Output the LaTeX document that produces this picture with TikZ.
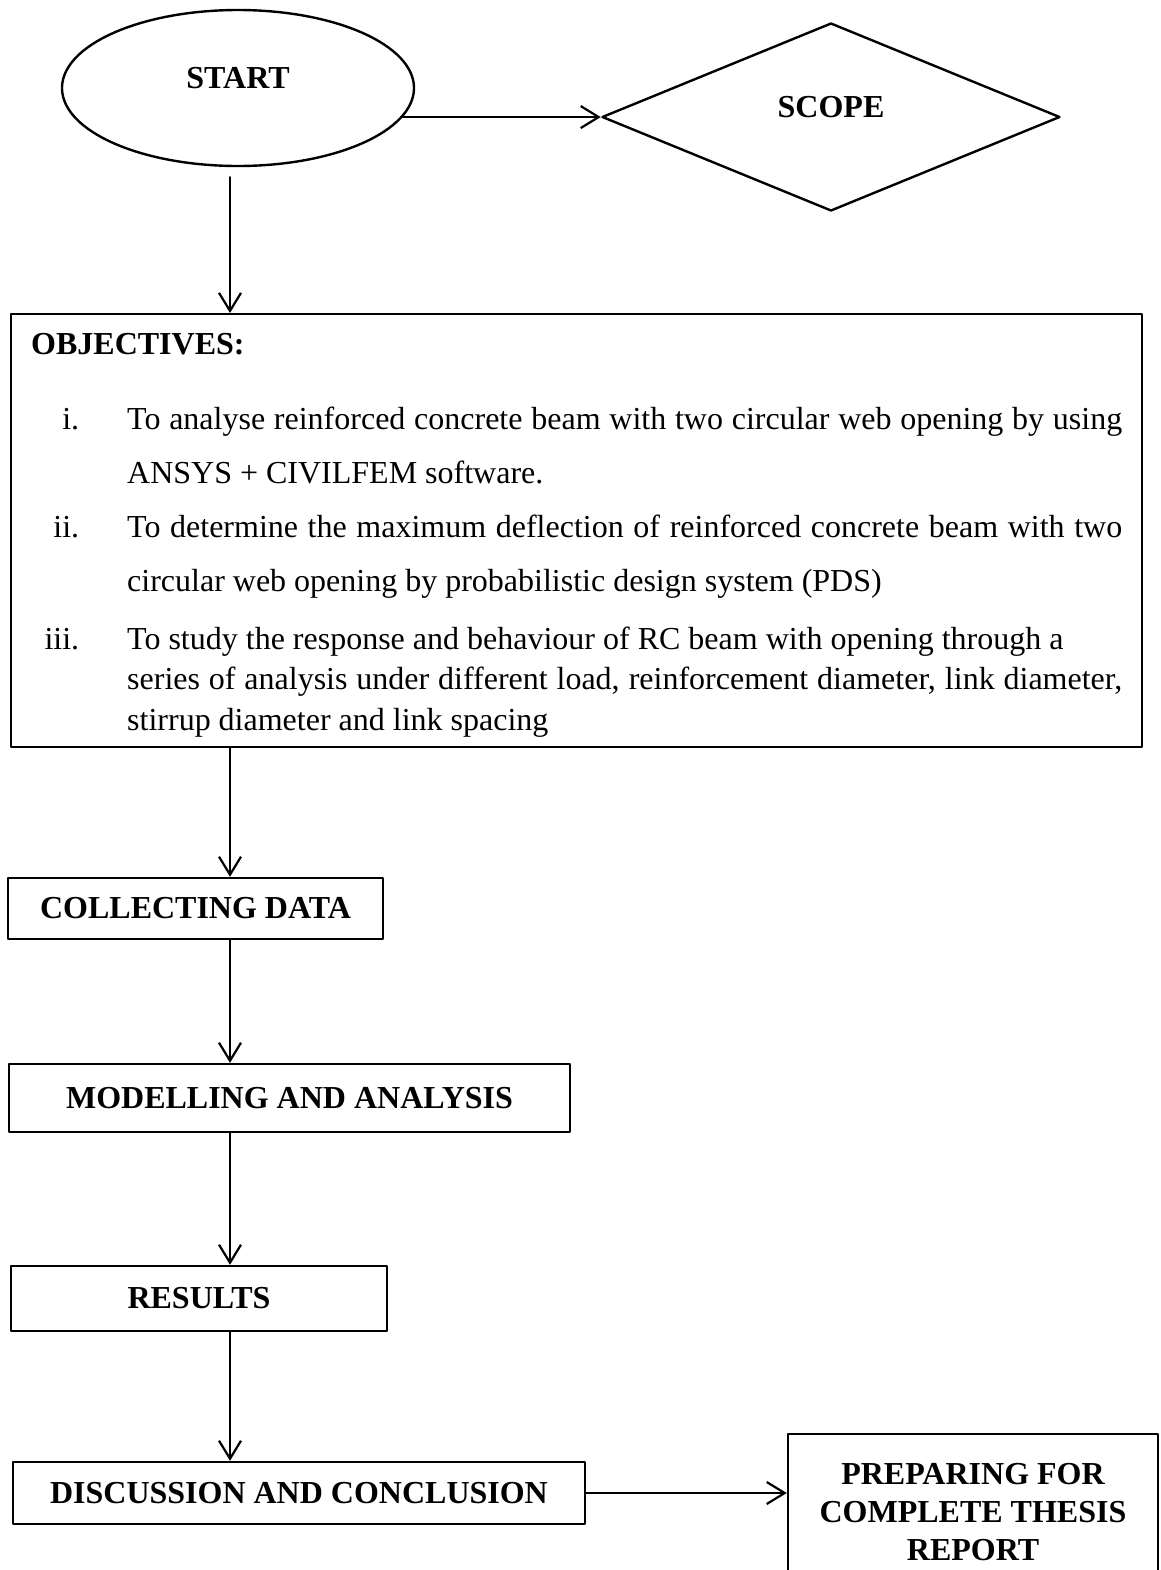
\documentclass[tikz,border=0pt]{standalone}
\usepackage{fontspec}
\setmainfont{Liberation Serif}
\usetikzlibrary{shapes.geometric,arrows.meta}

\newcommand{\objitem}[2]{\par\noindent\hangindent=48pt\makebox[24pt][r]{#1}\hspace{24pt}#2\par}

\tikzset{
  flowbox/.style={draw,line width=1.2pt,rectangle,inner sep=0pt,font=\fontsize{16}{19}\selectfont\bfseries},
  flowarrow/.style={line width=1.1pt,-{Straight Barb[length=9pt,width=11pt,line width=1.1pt]}}
}

\begin{document}
\begin{tikzpicture}[line cap=round,line join=round,x=0.5pt,y=-0.5pt]
\useasboundingbox (0,0) rectangle (1161,1570);
\coordinate (spine) at (230,0);

\node[flowbox,ellipse,minimum width=176pt,minimum height=78pt,text height=10pt,text depth=10pt] (start) at (238,88) {START};
\node[flowbox,diamond,minimum width=229pt,minimum height=94pt,text height=10pt,text depth=10pt] (scope) at (831,117) {SCOPE};

\node[flowbox,anchor=north west,text width=545.5pt,inner xsep=10pt,inner ysep=0pt,align=justify,font=\fontsize{16}{27}\selectfont] (obj) at (10,313) {%
\noindent\rule{0pt}{20pt}{\bfseries OBJECTIVES:}\par
\vspace{10.5pt}
\objitem{i.}{To analyse reinforced concrete beam with two circular web opening by using\linebreak ANSYS + CIVILFEM software.}
\objitem{ii.}{To determine the maximum deflection of reinforced concrete beam with two\linebreak circular web opening by probabilistic design system (PDS)}
\vspace{8.75pt}
{\baselineskip=20.25pt\objitem{iii.}{To study the response and behaviour of RC beam with opening through a\newline series of analysis under different load, reinforcement diameter, link diameter,\linebreak stirrup diameter and link spacing\rule[-8.5pt]{0pt}{8.5pt}}}};

\node[flowbox,minimum width=187.5pt,minimum height=30.5pt] (collect) at (195.5,908.5) {COLLECTING DATA};
\node[flowbox,minimum width=280.5pt,minimum height=34pt] (model) at (289.5,1098) {MODELLING AND ANALYSIS};
\node[flowbox,minimum width=188pt,minimum height=32.5pt] (results) at (199,1298.5) {RESULTS};
\node[flowbox,minimum width=286pt,minimum height=31pt] (discuss) at (299,1493) {DISCUSSION AND CONCLUSION};
\node[flowbox,minimum width=185pt,minimum height=78pt,align=center] (prepare) at (973,1512) {PREPARING FOR\\COMPLETE THESIS\\REPORT};

% connectors
\coordinate (startfoot) at ([yshift=-5pt]start.south);
\coordinate (startexit) at (start.-10);
\draw[flowarrow] (startexit) -- (startexit -| scope.west);
\draw[flowarrow] (startfoot -| spine) -- (obj.north -| spine);
\draw[flowarrow] (obj.south -| spine) -- (collect.north -| spine);
\draw[flowarrow] (collect.south -| spine) -- (model.north -| spine);
\draw[flowarrow] (model.south -| spine) -- (results.north -| spine);
\draw[flowarrow] (results.south -| spine) -- (discuss.north -| spine);
\draw[flowarrow] (discuss.east) -- (discuss.east -| prepare.west);
\end{tikzpicture}
\end{document}
